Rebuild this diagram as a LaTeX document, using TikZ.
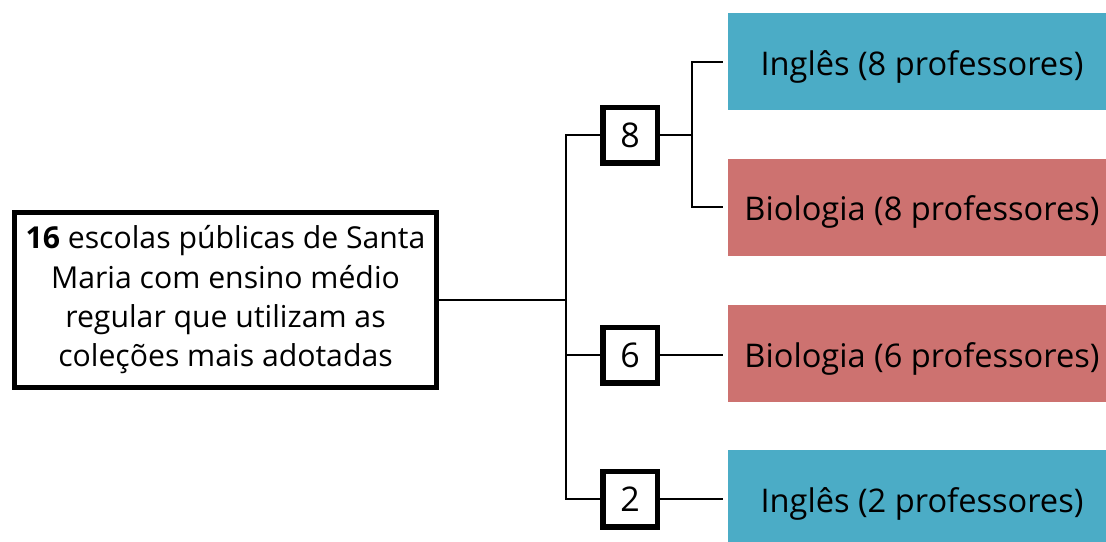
\documentclass[tikz,border=0pt]{standalone}
\usepackage{fontspec}
\setmainfont{Open Sans}
\definecolor{blu}{RGB}{75,172,198}
\definecolor{rd}{RGB}{205,114,112}
\begin{document}
\begin{tikzpicture}[x=1pt,y=-1pt,
  mainbox/.style={draw, line width=5pt, minimum width=422pt, minimum height=175pt, align=center, inner sep=0pt, font=\fontsize{30.2}{39.3}\selectfont},
  numbox/.style={draw, line width=5.5pt, minimum width=54.5pt, minimum height=55.5pt, inner sep=0pt, text height=24pt, text depth=0pt, font=\fontsize{34}{40}\selectfont},
  subj/.style={minimum width=388pt, minimum height=97pt, inner sep=0pt, text height=27pt, text depth=0pt, font=\fontsize{32.6}{38}\selectfont},
  conn/.style={line width=2pt}]
\useasboundingbox (0,0) rectangle (1106,541);
\clip (0,0) rectangle (1106,541);
\node[mainbox] (m) at (225.5,300) {\textbf{16} escolas públicas de Santa\\Maria com ensino médio\\regular que utilizam as\\coleções mais adotadas};
\node[numbox] (n8) at (630,135) {8};
\node[numbox] (n6) at (630,355) {6};
\node[numbox] (n2) at (630,499) {2};
\node[subj, fill=blu] (i8) at (922,61.5) {Inglês (8 professores)};
\node[subj, fill=rd] (b8) at (922,207) {Biologia (8 professores)};
\node[subj, fill=rd] (b6) at (922,353.5) {Biologia (6 professores)};
\node[subj, fill=blu] (i2) at (922,498.5) {Inglês (2 professores)};
\coordinate (j) at (566,300);
\coordinate (k) at (692,135);
\draw[conn] (m.east) -- (j);
\draw[conn] (n8.west) -| (j) |- (n2.west);
\draw[conn] (j) |- (n6.west);
\draw[conn] (n8.east) -- (k);
\draw[conn, shorten >=5pt] (k) |- (i8.west);
\draw[conn, shorten >=5pt] (k) |- (b8.west);
\draw[conn, shorten >=5pt] (n6.east) -- (n6.east -| b6.west);
\draw[conn, shorten >=5pt] (n2.east) -- (n2.east -| i2.west);
\end{tikzpicture}
\end{document}
